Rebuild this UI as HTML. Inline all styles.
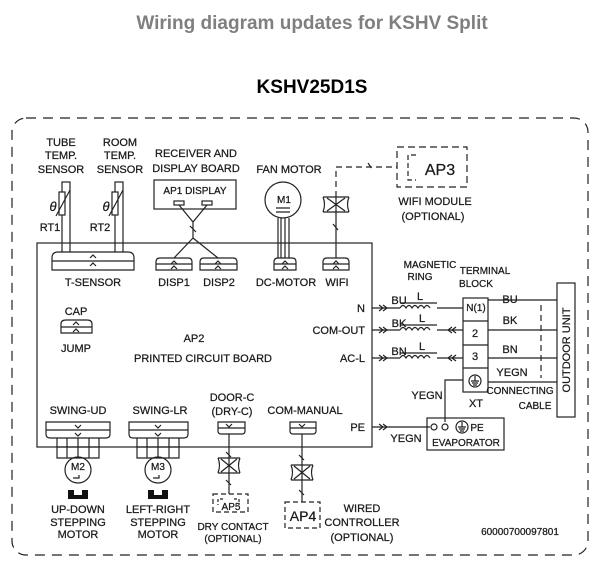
<!DOCTYPE html>
<html><head><meta charset="utf-8"><style>
html,body{margin:0;padding:0;background:#fff;width:604px;height:573px;overflow:hidden}
svg text{font-family:"Liberation Sans",sans-serif;fill:#1a1a1a}
.t{font-size:11px;stroke:#1a1a1a;stroke-width:0.25}
</style></head><body>
<svg width="604" height="573" viewBox="0 0 604 573" xmlns="http://www.w3.org/2000/svg">
<text x="312" y="29" text-anchor="middle" style="font-size:19px;font-weight:bold;fill:#7f7f7f">Wiring diagram updates for KSHV Split</text>
<text x="312" y="93" text-anchor="middle" style="font-size:19px;font-weight:bold;fill:#000">KSHV25D1S</text>
<g fill="none" stroke="#222" stroke-width="1.2">
<rect x="12" y="118" width="576" height="437" rx="14" stroke-dasharray="10,7"/>
<rect x="37" y="243" width="335" height="204"/>
<rect x="62" y="182" width="8" height="72"/><rect x="115" y="182" width="8" height="72"/>
<rect x="59" y="192" width="6" height="23" fill="#fff"/><rect x="112" y="192" width="6" height="23" fill="#fff"/>
<path d="M56 216 L70 190 M109 216 L123 190"/>
<path d="M52 270 V258 Q52 252 58 252 H128 Q134 252 134 258 V270 Z M52 261 H134" fill="#fff"/>
<path d="M90 258 l3 -3 3 3 M90 266 l3 -3 3 3"/>
<rect x="154" y="180" width="82" height="29"/>
<rect x="174" y="201" width="10" height="4"/><rect x="202" y="201" width="10" height="4"/>
<path d="M179 205 L193 222 L207 205 M193 222 V238 M190 226 l6 6 M193 238 L174 258 M193 238 L218 258"/>
<path d="M156 270 V262 Q156 258 160 258 H188 Q192 258 192 262 V270 Z M156 264 H192"/>
<path d="M200 270 V262 Q200 258 204 258 H233 Q237 258 237 262 V270 Z M200 264 H237"/>
<path d="M171 264 l3 -3 3 3 M171 269 l3 -3 3 3 M215 264 l3 -3 3 3 M215 269 l3 -3 3 3"/>
<circle cx="283" cy="200" r="18"/>
<path d="M276 208 H290 M276 212 H290" />
<path d="M278 218 V258 M281 218 V258 M285 218 V258 M289 218 V258"/>
<path d="M274 270 V262 Q274 258 278 258 H292 Q296 258 296 262 V270 Z M274 264 H296"/>
<path d="M282 264 l3 -3 3 3 M282 269 l3 -3 3 3"/>
<path d="M336 197 V258 M333 224 l5 6"/>
<path d="M323 197 H349 M323 212 H349 M323 197 q3 7 0 15 M349 197 q-3 7 0 15 M327 198 L345 211 M345 198 L327 211"/>
<path d="M323 270 V262 Q323 258 327 258 H345 Q349 258 349 262 V270 Z M323 264 H349 M333 264 l3 -3 3 3 M333 269 l3 -3 3 3"/>
<path d="M336 197 V167 H397 M368 163 l4 6" stroke-dasharray="6,4"/>
<rect x="397" y="147" width="70" height="40" stroke-dasharray="7,4"/>
<path d="M416 155 H408 V180 H416" stroke-dasharray="5,3"/>
<path d="M61 333 V324 Q61 320 66 320 H87 Q92 320 92 324 V333 Z M61 327 H92 M73 325 l3 -3 3 3 M73 332 l3 -3 3 3"/>
<path d="M46 422 H110 V434 Q110 438 106 438 H50 Q46 438 46 434 Z M46 430 H110 M75 425 l3 3 3 -3 M75 433 l3 3 3 -3"/>
<path d="M57 438 V458 H99 V438 M57 447 H99 M67 438 V458 M78 438 V458 M89 438 V458"/>
<circle cx="78" cy="470" r="13"/><path d="M73 478 H79 V475"/>
<path d="M129 422 H188 V434 Q188 438 184 438 H133 Q129 438 129 434 Z M129 430 H188 M155 425 l3 3 3 -3 M155 433 l3 3 3 -3"/>
<path d="M137 438 V458 H179 V438 M137 447 H179 M147 438 V458 M158 438 V458 M169 438 V458"/>
<circle cx="158" cy="470" r="13"/><path d="M153 478 H159 V475"/>
<path d="M218 422 H245 V431 Q245 434 242 434 H221 Q218 434 218 431 Z M218 428 H245 M226 424 l3 3 3 -3"/>
<path d="M229 434 V494 M226 452 l5 5 M226 480 l5 5"/>
<path d="M218 458 H240 M218 473 H240 M218 458 q3 7 0 15 M240 458 q-3 7 0 15 M221 459 L237 472 M237 459 L221 472"/>
<rect x="213" y="494" width="35" height="18" stroke-dasharray="5,3"/>
<path d="M223 499 H218 V505 M234 499 H239 V505" stroke-dasharray="3,2"/>
<path d="M290 422 H316 V431 Q316 434 313 434 H293 Q290 434 290 431 Z M290 428 H316 M299 424 l3 3 3 -3"/>
<path d="M302 434 V502 M299 455 l5 5 M299 490 l5 5"/>
<path d="M291 465 H313 M291 480 H313 M291 465 q3 7 0 15 M313 465 q-3 7 0 15 M294 466 L310 479 M310 466 L294 479"/>
<rect x="285" y="502" width="35" height="26" stroke-dasharray="5,3"/>
<path d="M372 308 H400 M437 308 H463 M372 330 H400 M437 330 H463 M372 358 H400 M437 358 H463 M372 427 H430"/>
<path d="M379 305 l4 3 -4 3 M383 305 l4 3 -4 3 M379 327 l4 3 -4 3 M383 327 l4 3 -4 3 M379 355 l4 3 -4 3 M383 355 l4 3 -4 3 M379 424 l4 3 -4 3 M383 424 l4 3 -4 3"/>
<path d="M452 327 l-4 3 4 3 M456 327 l-4 3 4 3 M452 355 l-4 3 4 3 M456 355 l-4 3 4 3"/>
<path d="M400 308 q3 -5 6 0 q3 -5 6 0 q3 -5 6 0 q3 -5 6 0 q3 -5 6 0 M400 303 H437"/>
<path d="M400 330 q3 -5 6 0 q3 -5 6 0 q3 -5 6 0 q3 -5 6 0 q3 -5 6 0 M400 325 H437"/>
<path d="M400 358 q3 -5 6 0 q3 -5 6 0 q3 -5 6 0 q3 -5 6 0 q3 -5 6 0 M400 353 H437"/>
<rect x="463" y="298" width="25" height="94"/>
<path d="M463 321 H488 M463 345 H488 M463 368 H488"/>
<circle cx="475" cy="381" r="6"/><path d="M475 376 V381 M471 381 H479 M472 383 H478 M473 385 H477"/>
<path d="M488 300 H557 M488 330 H557 M488 358 H557 M488 382 H557"/>
<path d="M541 305 V378" stroke-dasharray="6,4"/>
<rect x="557" y="283" width="18" height="134"/>
<path d="M463 380 H445 V422"/>
<rect x="427" y="418" width="77" height="32"/>
<circle cx="434" cy="427" r="3"/><circle cx="445" cy="427" r="3"/>
<circle cx="462" cy="427" r="6"/><path d="M462 422 V427 M458 427 H466 M459 429 H465 M460 431 H464"/>
</g>
<rect x="68" y="490" width="20" height="9" fill="#111"/><rect x="74" y="490" width="8" height="5" fill="#fff"/>
<rect x="148" y="490" width="20" height="9" fill="#111"/><rect x="154" y="490" width="8" height="5" fill="#fff"/>
<g class="t" text-anchor="middle">
<text x="61" y="146">TUBE</text><text x="61" y="159">TEMP.</text><text x="61" y="173">SENSOR</text>
<text x="120" y="146">ROOM</text><text x="120" y="159">TEMP.</text><text x="120" y="173">SENSOR</text>
<text x="50" y="231">RT1</text><text x="100" y="231">RT2</text>
<text x="53" y="211" style="font-style:italic;font-size:13px">θ</text><text x="106" y="211" style="font-style:italic;font-size:13px">θ</text>
<text x="196" y="157">RECEIVER AND</text><text x="196" y="172">DISPLAY BOARD</text>
<text x="195" y="194" style="font-size:10px">AP1 DISPLAY</text>
<text x="289" y="173">FAN MOTOR</text>
<text x="284" y="203" style="font-size:10px">M1</text>
<text x="93" y="286">T-SENSOR</text>
<text x="174" y="286">DISP1</text><text x="219" y="286">DISP2</text>
<text x="286" y="286">DC-MOTOR</text><text x="337" y="286">WIFI</text>
<text x="440" y="175" style="font-size:16px">AP3</text>
<text x="435" y="205">WIFI MODULE</text><text x="433" y="220">(OPTIONAL)</text>
<text x="76" y="315">CAP</text><text x="76" y="352">JUMP</text>
<text x="194" y="342">AP2</text><text x="203" y="362">PRINTED CIRCUIT BOARD</text>
<text x="78" y="414">SWING-UD</text><text x="160" y="414">SWING-LR</text>
<text x="232" y="401">DOOR-C</text><text x="232" y="415">(DRY-C)</text>
<text x="305" y="414">COM-MANUAL</text>
<text x="78" y="470" style="font-size:10px">M2</text><text x="158" y="470" style="font-size:10px">M3</text>
<text x="78" y="513">UP-DOWN</text><text x="78" y="526">STEPPING</text><text x="78" y="538">MOTOR</text>
<text x="158" y="513">LEFT-RIGHT</text><text x="158" y="526">STEPPING</text><text x="158" y="538">MOTOR</text>
<text x="231" y="510" style="font-size:10px">AP5</text>
<text x="233" y="530" style="font-size:10px">DRY CONTACT</text><text x="233" y="542" style="font-size:10px">(OPTIONAL)</text>
<text x="303" y="521" style="font-size:14px">AP4</text>
<text x="362" y="512">WIRED</text><text x="362" y="526">CONTROLLER</text><text x="362" y="541">(OPTIONAL)</text>
<text x="520" y="535" style="font-size:10px">60000700097801</text>
<text x="430" y="268" style="font-size:10px">MAGNETIC</text><text x="420" y="280" style="font-size:10px">RING</text>
<text x="485" y="274" style="font-size:10px">TERMINAL</text><text x="476" y="287" style="font-size:10px">BLOCK</text>
<text x="420" y="300">L</text><text x="422" y="322">L</text><text x="422" y="350">L</text>
<text x="399" y="304">BU</text><text x="399" y="327">BK</text><text x="399" y="355">BN</text>
<text x="476" y="311" style="font-size:10px">N(1)</text><text x="475" y="337">2</text><text x="475" y="360">3</text>
<text x="510" y="303">BU</text><text x="510" y="324">BK</text><text x="510" y="353">BN</text><text x="512" y="376">YEGN</text>
<text x="476" y="407">XT</text>
<text x="520" y="394" style="font-size:10px">CONNECTING</text><text x="535" y="409" style="font-size:10px">CABLE</text>
<text x="427" y="399">YEGN</text><text x="406" y="442">YEGN</text>
<text x="477" y="431" style="font-size:10px">PE</text><text x="466" y="446" style="font-size:10px">EVAPORATOR</text>
</g>
<g class="t" text-anchor="end">
<text x="365" y="312">N</text><text x="365" y="334">COM-OUT</text><text x="365" y="362">AC-L</text><text x="365" y="431">PE</text>
</g>
<text x="570" y="350" class="t" text-anchor="middle" transform="rotate(-90 570 350)">OUTDOOR UNIT</text>
</svg>
</body></html>
